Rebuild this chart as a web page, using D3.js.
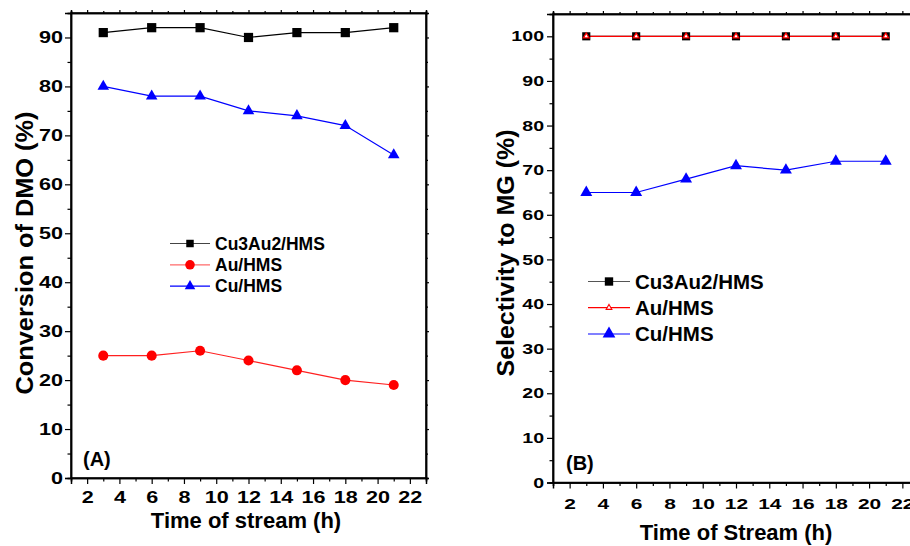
<!DOCTYPE html>
<html>
<head>
<meta charset="utf-8">
<script src="https://cdn.jsdelivr.net/npm/d3@7"></script>
<style>
  body { margin: 0; background: #fff; }
  svg { display: block; font-family: "Liberation Sans", Arial, sans-serif; font-weight: bold; }
</style>
</head>
<body>
<div id="chart"></div>
<script>
// time on stream (h)
var hours = [3, 6, 9, 12, 15, 18, 21];
// panel A: conversion of DMO (%)
var convCu3Au2 = [91, 92, 92, 90, 91, 91, 92];
var convAu = [25, 25, 26, 24, 22, 20, 19];
var convCu = [80, 78, 78, 75, 74, 72, 66];
// panel B: selectivity to MG (%)
var selCu3Au2 = [100, 100, 100, 100, 100, 100, 100];
var selAu = [100, 100, 100, 100, 100, 100, 100];
var selCu = [65, 65, 68, 71, 70, 72, 72];
// ticks
var xTicks = [2, 4, 6, 8, 10, 12, 14, 16, 18, 20, 22];
var yTicksA = [0, 10, 20, 30, 40, 50, 60, 70, 80, 90];
var yTicksB = [0, 10, 20, 30, 40, 50, 60, 70, 80, 90, 100];
var seriesNames = ["Cu3Au2/HMS", "Au/HMS", "Cu/HMS"];

var sx = 1.35; // tick digits are drawn wide in the original

var svg = d3.select("#chart").append("svg")
    .attr("width", 910)
    .attr("height", 546);

function range(a, b, step) {
    var out = [];
    for (var v = a; v <= b + 1e-9; v += step) out.push(v);
    return out;
}

function panel(p) {
    var g = svg.append("g");
    var x = d3.scaleLinear().domain([1, 23]).range([p.left, p.right]);
    var y = d3.scaleLinear().domain(p.yDomain).range([p.bottom, p.top]);

    var minorX = range(1, 23, 1).filter(function(v) { return v % 2 != 0; });
    var minorY = range(5, p.yDomain[1], 10);

    // frame
    g.append("rect")
        .attr("x", p.left).attr("y", p.top)
        .attr("width", p.right - p.left).attr("height", p.bottom - p.top)
        .attr("fill", "none").attr("stroke", "#000").attr("stroke-width", 1.5);

    // bottom axis
    var bx = g.append("g")
        .attr("transform", "translate(0," + p.bottom + ")")
        .call(d3.axisBottom(x).tickValues(xTicks).tickSize(6).tickPadding(p.xPad).tickFormat(d3.format("d")));
    g.append("g")
        .attr("transform", "translate(0," + p.bottom + ")")
        .call(d3.axisBottom(x).tickValues(minorX).tickSize(3.5).tickFormat(""));
    bx.selectAll("text")
        .attr("transform", "scale(" + sx + ",1)")
        .style("font-size", p.tickFont + "px");

    // left axis
    var ly = g.append("g")
        .attr("transform", "translate(" + p.left + ",0)")
        .call(d3.axisLeft(y).tickValues(p.yTicks).tickSize(6).tickFormat(d3.format("d")));
    g.append("g")
        .attr("transform", "translate(" + p.left + ",0)")
        .call(d3.axisLeft(y).tickValues(minorY).tickSize(3.5).tickFormat(""));
    ly.selectAll("text")
        .attr("x", -p.yPad / sx)
        .attr("transform", "scale(" + sx + ",1)")
        .style("font-size", p.yTickFont + "px");

    // top and right mirror ticks
    g.append("g").attr("transform", "translate(0," + p.top + ")")
        .call(d3.axisTop(x).tickValues(xTicks).tickSize(3).tickFormat(""));
    g.append("g").attr("transform", "translate(0," + p.top + ")")
        .call(d3.axisTop(x).tickValues(minorX).tickSize(2).tickFormat(""));
    g.append("g").attr("transform", "translate(" + p.right + ",0)")
        .call(d3.axisRight(y).tickValues(p.yTicks).tickSize(3).tickFormat(""));
    g.append("g").attr("transform", "translate(" + p.right + ",0)")
        .call(d3.axisRight(y).tickValues(minorY).tickSize(2).tickFormat(""));

    g.selectAll(".domain").attr("stroke-width", 1.5);
    g.selectAll(".tick line").attr("stroke-width", 1.2);
    g.selectAll(".tick text").style("font-weight", "bold").style("font-family", "'Liberation Sans', Arial, sans-serif").attr("fill", "#000");

    // series
    var line = d3.line()
        .x(function(d) { return x(d[0]); })
        .y(function(d) { return y(d[1]); });

    p.series.forEach(function(s) {
        var pts = hours.map(function(h, i) { return [h, s.values[i]]; });
        g.append("path")
            .attr("d", line(pts))
            .attr("fill", "none")
            .attr("stroke", s.color)
            .attr("stroke-width", 1.2);
    });
    p.series.forEach(function(s) {
        var pts = hours.map(function(h, i) { return [h, s.values[i]]; });
        s.markers.forEach(function(m) {
            g.selectAll(null).data(pts).enter().append("path")
                .attr("d", d3.symbol().type(m.type).size(m.size))
                .attr("transform", function(d) { return "translate(" + x(d[0]) + "," + y(d[1]) + ")"; })
                .attr("fill", m.fill)
                .attr("stroke", m.stroke || "none")
                .attr("stroke-width", m.sw || 0);
        });
    });

    // legend
    p.series.forEach(function(s, i) {
        var ly0 = p.legend.y + i * p.legend.dy;
        g.append("line")
            .attr("x1", p.legend.x).attr("x2", p.legend.x + p.legend.len)
            .attr("y1", ly0).attr("y2", ly0)
            .attr("stroke", s.legendColor || s.color)
            .attr("stroke-width", s.legendWidth || 1.2);
        s.legendMarkers.forEach(function(m) {
            g.append("path")
                .attr("d", d3.symbol().type(m.type).size(m.size))
                .attr("transform", "translate(" + (p.legend.x + p.legend.len / 2) + "," + ly0 + ")")
                .attr("fill", m.fill)
                .attr("stroke", m.stroke || "none")
                .attr("stroke-width", m.sw || 0);
        });
        g.append("text")
            .attr("x", p.legend.x + p.legend.len + 5)
            .attr("y", ly0)
            .attr("dy", "0.36em")
            .style("font-size", p.legend.font + "px")
            .text(seriesNames[i]);
    });

    // titles
    g.append("text")
        .attr("x", (p.left + p.xTitleShift))
        .attr("y", p.xTitleY)
        .attr("text-anchor", "middle")
        .style("font-size", "22px")
        .text(p.xTitle);

    g.append("text")
        .attr("transform", "translate(" + p.yTitleX + "," + p.yTitleY + ") rotate(-90)")
        .attr("text-anchor", "middle")
        .attr("textLength", p.yTitleLen)
        .attr("lengthAdjust", "spacingAndGlyphs")
        .style("font-size", "23px")
        .text(p.yTitle);

    g.append("text")
        .attr("x", p.tag[0]).attr("y", p.tag[1])
        .style("font-size", "20px")
        .text(p.tagText);
}

panel({
    left: 71, right: 426, top: 13, bottom: 478,
    yDomain: [0, 95], yTicks: yTicksA,
    tickFont: 16, yTickFont: 16, xPad: 8, yPad: 8,
    xTitle: "Time of stream (h)", xTitleShift: 175, xTitleY: 528,
    yTitle: "Conversion of DMO (%)", yTitleX: 33, yTitleY: 253, yTitleLen: 283,
    tag: [83, 466], tagText: "(A)",
    legend: { x: 170, y: 243.5, dy: 21.3, len: 40, font: 17.5 },
    series: [
        { values: convCu3Au2, color: "#000", legendColor: "#444",
          markers: [{ type: d3.symbolSquare, size: 85, fill: "#000" }],
          legendMarkers: [{ type: d3.symbolSquare, size: 56, fill: "#000" }] },
        { values: convAu, color: "#ff2020", legendColor: "#ff6a6a",
          markers: [{ type: d3.symbolCircle, size: 80, fill: "#ff0000" }],
          legendMarkers: [{ type: d3.symbolCircle, size: 72, fill: "#ff0000" }] },
        { values: convCu, color: "#0000ff",
          markers: [{ type: d3.symbolTriangle, size: 58, fill: "#0000ff" }],
          legendMarkers: [{ type: d3.symbolTriangle, size: 48, fill: "#0000ff" }] }
    ]
});

panel({
    left: 553, right: 919, top: 14, bottom: 482.5,
    yDomain: [0, 105], yTicks: yTicksB,
    tickFont: 15.5, yTickFont: 14.5, xPad: 9, yPad: 9,
    xTitle: "Time of Stream (h)", xTitleShift: 183, xTitleY: 540,
    yTitle: "Selectivity to MG (%)", yTitleX: 514, yTitleY: 253, yTitleLen: 247,
    tag: [566, 470], tagText: "(B)",
    legend: { x: 588, y: 281.5, dy: 26.2, len: 42, font: 20.5 },
    series: [
        { values: selCu3Au2, color: "#000", legendColor: "#555",
          markers: [{ type: d3.symbolSquare, size: 66, fill: "#000" }],
          legendMarkers: [{ type: d3.symbolSquare, size: 70, fill: "#000" }] },
        { values: selAu, color: "#ff0000",
          markers: [{ type: d3.symbolTriangle, size: 14, fill: "#fff", stroke: "#ff0000", sw: 1.3 }],
          legendMarkers: [{ type: d3.symbolTriangle, size: 14, fill: "#fff", stroke: "#ff0000", sw: 1.1 }] },
        { values: selCu, color: "#0000ff", legendColor: "#8080ff", legendWidth: 2,
          markers: [{ type: d3.symbolTriangle, size: 62, fill: "#0000ff" }],
          legendMarkers: [{ type: d3.symbolTriangle, size: 70, fill: "#0000ff" }] }
    ]
});
</script>
</body>
</html>
